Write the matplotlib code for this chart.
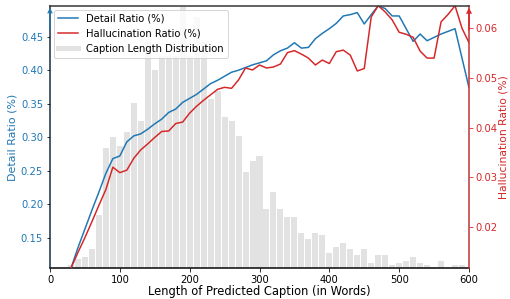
import matplotlib
matplotlib.use("Agg")
import matplotlib.pyplot as plt
from matplotlib.lines import Line2D

# caption length (words), one point every 10 words
lengths = list(range(30, 601, 10))

detail_ratio = [0.1043, 0.135, 0.163, 0.191, 0.218, 0.246, 0.268, 0.272, 0.293, 0.302,
                0.305, 0.312, 0.320, 0.327, 0.337, 0.342, 0.352, 0.358, 0.364, 0.372,
                0.380, 0.385, 0.391, 0.397, 0.400, 0.404, 0.408, 0.411, 0.414, 0.423,
                0.429, 0.433, 0.441, 0.433, 0.434, 0.447, 0.455, 0.462, 0.470, 0.481,
                0.483, 0.486, 0.469, 0.483, 0.4963, 0.492, 0.481, 0.481, 0.462, 0.443,
                0.454, 0.444, 0.449, 0.454, 0.458, 0.462, 0.418, 0.374]

halluc_ratio = [0.01161, 0.0148, 0.0178, 0.0210, 0.0243, 0.0275, 0.0320, 0.0309, 0.0314, 0.0338,
                0.0355, 0.0367, 0.0380, 0.0392, 0.0393, 0.0408, 0.0411, 0.0429, 0.0443, 0.0455,
                0.0466, 0.0477, 0.0481, 0.0479, 0.0496, 0.0520, 0.0516, 0.0526, 0.0520, 0.0522,
                0.0528, 0.0551, 0.0555, 0.0548, 0.0540, 0.0526, 0.0536, 0.0529, 0.0553, 0.0556,
                0.0546, 0.0514, 0.0519, 0.0623, 0.06456, 0.0633, 0.0617, 0.0592, 0.0588, 0.0582,
                0.0554, 0.0540, 0.0540, 0.0613, 0.0628, 0.06456, 0.0600, 0.0571]

# histogram of caption lengths (bins centred every 10 words, 30..590)
bin_centers = list(range(30, 591, 10))
counts = [3, 9, 11, 19, 53, 120, 132, 122, 137, 166,
          148, 227, 199, 213, 213, 213, 262, 213, 252, 227,
          170, 178, 152, 148, 133, 96, 107, 112, 59, 76,
          59, 51, 51, 35, 29, 35, 33, 15, 21, 25,
          19, 13, 19, 5, 13, 13, 3, 5, 7, 11,
          5, 3, 1, 7, 0, 3, 3]

blue = "#1f77b4"
red = "#d62728"
plt.rcParams["font.size"] = 10

fig = plt.figure(figsize=(510 / 72, 299 / 72), dpi=72)
rect = [50 / 510, 1 - 268.3 / 299, 419 / 510, (268.3 - 5.7) / 299]

axh = fig.add_axes(rect)
axh.bar(bin_centers, counts, width=8.6, color="#e2e2e2", zorder=1)
axh.set_ylim(0, 263)
axh.set_xlim(0, 600)
axh.set_yticks([])
axh.set_zorder(0)

ax1 = axh.twinx()
ax1.yaxis.tick_left()
ax1.yaxis.set_label_position("left")
ax1.set_zorder(1)
ax1.patch.set_visible(False)
ax1.plot(lengths, detail_ratio, color=blue, lw=1.5)
ax1.set_ylim(min(detail_ratio), max(detail_ratio))
ax1.set_yticks([0.15, 0.20, 0.25, 0.30, 0.35, 0.40, 0.45])
ax1.set_ylabel("Detail Ratio (%)", color=blue, fontsize=11)
ax1.yaxis.set_label_coords(-0.077, 0.5)
ax1.tick_params(axis="y", labelcolor=blue)

ax2 = axh.twinx()
ax2.set_zorder(2)
ax2.patch.set_visible(False)
ax2.plot(lengths, halluc_ratio, color=red, lw=1.5)
ax2.set_ylim(min(halluc_ratio), max(halluc_ratio))
ax2.set_yticks([0.02, 0.03, 0.04, 0.05, 0.06])
ax2.set_ylabel("Hallucination Ratio (%)", color=red, fontsize=10.8)
ax2.yaxis.set_label_coords(1.0715, 0.5)
ax2.tick_params(axis="y", labelcolor=red, color=red, pad=2.5)

axh.set_xticks([0, 100, 200, 300, 400, 500, 600])
axh.set_xlabel("Length of Predicted Caption (in Words)", fontsize=11.5, labelpad=0)

# spines
for a in (axh, ax1, ax2):
    for s in a.spines.values():
        s.set_visible(False)
axh.spines["bottom"].set_visible(True)
axh.spines["bottom"].set_linewidth(1.5)
ax2.spines["top"].set_visible(True)
ax2.spines["top"].set_color("#333333")
ax2.spines["top"].set_linewidth(1.5)
ax1.spines["left"].set_visible(True)
ax1.spines["left"].set_color("#13293d")
ax1.spines["left"].set_linewidth(1.5)
ax2.spines["right"].set_visible(True)
ax2.spines["right"].set_color("#bf3030")
ax2.spines["right"].set_linewidth(1.5)

# arrow heads on the y axes
ax2.annotate("", xy=(0, 1), xycoords="axes fraction", xytext=(0, 0.9),
             arrowprops=dict(arrowstyle="->", color=blue, lw=1.2))
ax2.annotate("", xy=(1, 1), xycoords="axes fraction", xytext=(1, 0.9),
             arrowprops=dict(arrowstyle="->", color=red, lw=1.5))

handles = [Line2D([], [], color=blue, lw=1.5),
           Line2D([], [], color=red, lw=1.5),
           Line2D([], [], color="#e2e2e2", lw=5)]
ax2.legend(handles, ["Detail Ratio (%)", "Hallucination Ratio (%)",
                     "Caption Length Distribution"],
           loc="upper left", borderaxespad=0.4)

fig.savefig("out.png", dpi=72)
